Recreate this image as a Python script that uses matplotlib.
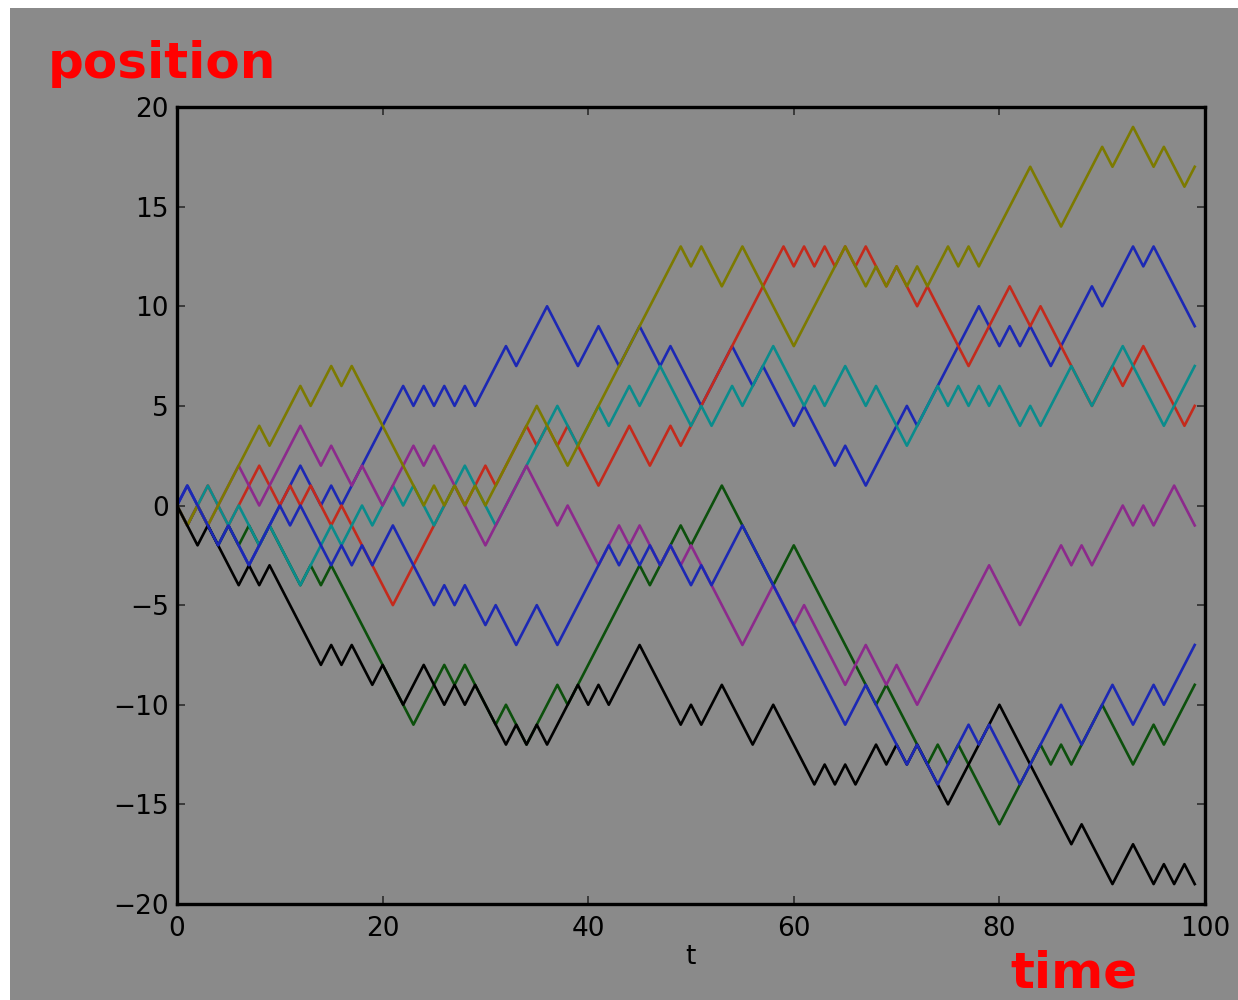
import numpy as np
import matplotlib
matplotlib.use("Agg")
import matplotlib.pyplot as plt
from matplotlib.patches import Rectangle

t = np.arange(100)

blue_a = [0, 1, 0, -1, -2, -1, -2, -3, -2, -1,
          0, 1, 2, 1, 0, 1, 0, 1, 2, 3,
          4, 5, 6, 5, 6, 5, 6, 5, 6, 5,
          6, 7, 8, 7, 8, 9, 10, 9, 8, 7,
          8, 9, 8, 7, 8, 9, 8, 7, 8, 7,
          6, 5, 6, 7, 8, 7, 6, 7, 6, 5,
          4, 5, 4, 3, 2, 3, 2, 1, 2, 3,
          4, 5, 4, 5, 6, 7, 8, 9, 10, 9,
          8, 9, 8, 9, 8, 7, 8, 9, 10, 11,
          10, 11, 12, 13, 12, 13, 12, 11, 10, 9]

green = [0, -1, 0, -1, -2, -1, -2, -1, -2, -1,
         -2, -3, -4, -3, -4, -3, -4, -5, -6, -7,
         -8, -9, -10, -11, -10, -9, -8, -9, -8, -9,
         -10, -11, -10, -11, -12, -11, -10, -9, -10, -9,
         -8, -7, -6, -5, -4, -3, -4, -3, -2, -1,
         -2, -1, 0, 1, 0, -1, -2, -3, -4, -3,
         -2, -3, -4, -5, -6, -7, -8, -9, -10, -9,
         -10, -11, -12, -13, -12, -13, -12, -13, -14, -15,
         -16, -15, -14, -13, -12, -13, -12, -13, -12, -11,
         -10, -11, -12, -13, -12, -11, -12, -11, -10, -9]

red = [0, -1, 0, 1, 0, -1, 0, 1, 2, 1,
       0, 1, 0, 1, 0, -1, 0, -1, -2, -3,
       -4, -5, -4, -3, -2, -1, 0, 1, 0, 1,
       2, 1, 2, 3, 4, 3, 4, 3, 4, 3,
       2, 1, 2, 3, 4, 3, 2, 3, 4, 3,
       4, 5, 6, 7, 8, 9, 10, 11, 12, 13,
       12, 13, 12, 13, 12, 13, 12, 13, 12, 11,
       12, 11, 10, 11, 10, 9, 8, 7, 8, 9,
       10, 11, 10, 9, 10, 9, 8, 7, 6, 5,
       6, 7, 6, 7, 8, 7, 6, 5, 4, 5]

cyan = [0, -1, 0, 1, 0, -1, 0, -1, -2, -1,
        -2, -3, -4, -3, -2, -1, -2, -1, 0, -1,
        0, 1, 0, 1, 0, -1, 0, 1, 2, 1,
        0, -1, 0, 1, 2, 3, 4, 5, 4, 3,
        4, 5, 4, 5, 6, 5, 6, 7, 6, 5,
        4, 5, 4, 5, 6, 5, 6, 7, 8, 7,
        6, 5, 6, 5, 6, 7, 6, 5, 6, 5,
        4, 3, 4, 5, 6, 5, 6, 5, 6, 5,
        6, 5, 4, 5, 4, 5, 6, 7, 6, 5,
        6, 7, 8, 7, 6, 5, 4, 5, 6, 7]

magenta = [0, -1, 0, -1, 0, 1, 2, 1, 0, 1,
           2, 3, 4, 3, 2, 3, 2, 1, 2, 1,
           0, 1, 2, 3, 2, 3, 2, 1, 0, -1,
           -2, -1, 0, 1, 2, 1, 0, -1, 0, -1,
           -2, -3, -2, -1, -2, -1, -2, -3, -2, -3,
           -2, -3, -4, -5, -6, -7, -6, -5, -4, -5,
           -6, -5, -6, -7, -8, -9, -8, -7, -8, -9,
           -8, -9, -10, -9, -8, -7, -6, -5, -4, -3,
           -4, -5, -6, -5, -4, -3, -2, -3, -2, -3,
           -2, -1, 0, -1, 0, -1, 0, 1, 0, -1]

olive = [0, -1, 0, -1, 0, 1, 2, 3, 4, 3,
         4, 5, 6, 5, 6, 7, 6, 7, 6, 5,
         4, 3, 2, 1, 0, 1, 0, 1, 0, 1,
         0, 1, 2, 3, 4, 5, 4, 3, 2, 3,
         4, 5, 6, 7, 8, 9, 10, 11, 12, 13,
         12, 13, 12, 11, 12, 13, 12, 11, 10, 9,
         8, 9, 10, 11, 12, 13, 12, 11, 12, 11,
         12, 11, 12, 11, 12, 13, 12, 13, 12, 13,
         14, 15, 16, 17, 16, 15, 14, 15, 16, 17,
         18, 17, 18, 19, 18, 17, 18, 17, 16, 17]

black = [0, -1, -2, -1, -2, -3, -4, -3, -4, -3,
         -4, -5, -6, -7, -8, -7, -8, -7, -8, -9,
         -8, -9, -10, -9, -8, -9, -10, -9, -10, -9,
         -10, -11, -12, -11, -12, -11, -12, -11, -10, -9,
         -10, -9, -10, -9, -8, -7, -8, -9, -10, -11,
         -10, -11, -10, -9, -10, -11, -12, -11, -10, -11,
         -12, -13, -14, -13, -14, -13, -14, -13, -12, -13,
         -12, -13, -12, -13, -14, -15, -14, -13, -12, -11,
         -10, -11, -12, -13, -14, -15, -16, -17, -16, -17,
         -18, -19, -18, -17, -18, -19, -18, -19, -18, -19]

blue_b = [0, 1, 0, -1, -2, -1, -2, -3, -2, -1,
          0, -1, 0, -1, -2, -3, -2, -3, -2, -3,
          -2, -1, -2, -3, -4, -5, -4, -5, -4, -5,
          -6, -5, -6, -7, -6, -5, -6, -7, -6, -5,
          -4, -3, -2, -3, -2, -3, -2, -3, -2, -3,
          -4, -3, -4, -3, -2, -1, -2, -3, -4, -5,
          -6, -7, -8, -9, -10, -11, -10, -9, -10, -11,
          -12, -13, -12, -13, -14, -13, -12, -11, -12, -11,
          -12, -13, -14, -13, -12, -11, -10, -11, -12, -11,
          -10, -9, -10, -11, -10, -9, -10, -9, -8, -7]

series = [blue_a, green, red, cyan, magenta, olive, black, blue_b]
colors = ["#1c28b4", "#0c500c", "#c42a1c", "#0a8c8c", "#8c2a8c", "#7c7a00", "#000000", "#1c28b4"]

xticks = [0, 20, 40, 60, 80, 100]
yticks = [-20, -15, -10, -5, 0, 5, 10, 15, 20]

bg = "#8a8a8a"
fig = plt.figure(figsize=(12.38, 10), dpi=100, facecolor="white")
fig.patches.append(Rectangle((10 / 1238, 0), 1 - 10 / 1238, 1 - 8 / 1000,
                             transform=fig.transFigure, facecolor=bg,
                             edgecolor="none", zorder=-10))

ax = fig.add_axes([177 / 1238, 96 / 1000, (1205 - 177) / 1238, (904 - 107) / 1000])
ax.set_zorder(5)
ax.set_facecolor(bg)
for s, c in zip(series, colors):
    ax.plot(t, s, color=c, lw=1.9)

ax.set_xlim(0, 100)
ax.set_ylim(-20, 20)
ax.set_xticks(xticks)
ax.set_yticks(yticks)
ax.tick_params(direction="in", length=6, width=1.3, color="#333333",
               labelsize=19, top=True, right=True, labelcolor="black")
ax.tick_params(axis="x", pad=9)
ax.tick_params(axis="y", pad=6)
for sp in ax.spines.values():
    sp.set_linewidth(2.4)
    sp.set_color("black")

fig.text(690 / 1238, 0.043, "t", ha="center", va="center", fontsize=19, color="black", zorder=6)
fig.text(48 / 1238, 0.922, "position", ha="left", va="baseline", fontsize=36,
         fontweight="bold", color="#ff0000", family="DejaVu Sans", zorder=6)
fig.text(1010 / 1238, 0.012, "time", ha="left", va="baseline", fontsize=36,
         fontweight="bold", color="#ff0000", family="DejaVu Sans", zorder=6)

fig.savefig("out.png", dpi=100, facecolor=fig.get_facecolor())
